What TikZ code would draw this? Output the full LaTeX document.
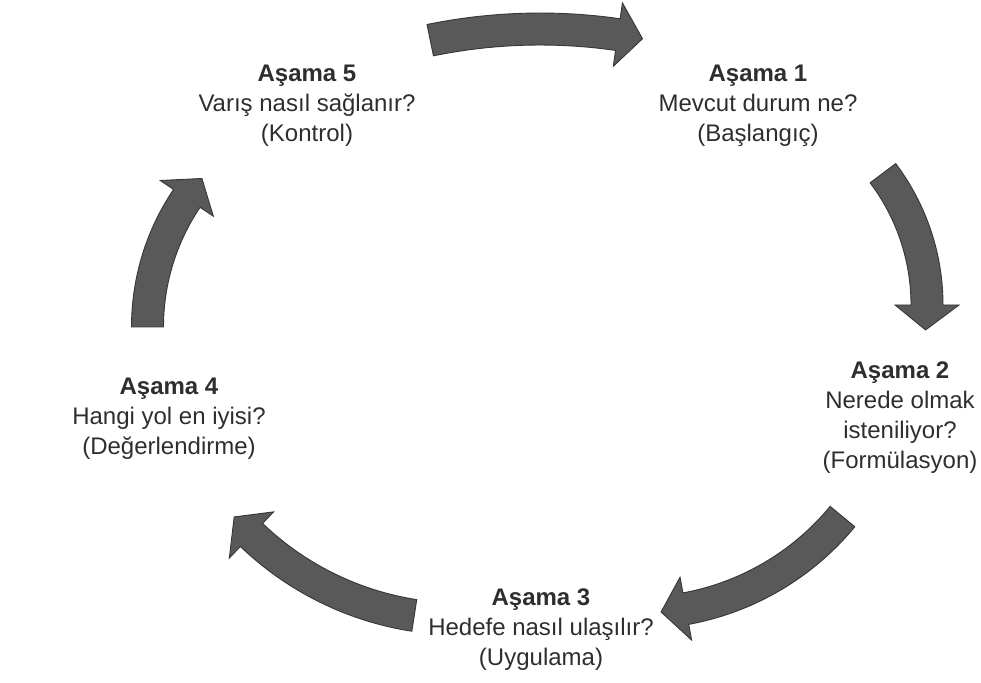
\documentclass[tikz,border=0pt]{standalone}
\usepackage{fontspec}
\setmainfont{Liberation Sans}
\usetikzlibrary{calc}
\definecolor{arrowgray}{HTML}{595959}
\definecolor{arrowedge}{HTML}{363636}
\definecolor{stagetext}{HTML}{2E2E2E}
\tikzset{
	blockarrow/.style={fill=arrowgray, draw=arrowedge, line width=0.9pt, line join=miter},
	stage/.style={align=center, inner sep=0pt, text=stagetext, font=\fontsize{24}{30}\selectfont}
}
% block arrow on a circle: centre, radius, start angle, end angle (clockwise)
\newcommand{\cyclearrow}[4]{%
	\pgfmathsetmacro{\tipang}{#4-25/#2*180/pi}
	\draw[blockarrow] ($(#1)+(#3:#2+16)$) arc[start angle=#3, end angle=#4, radius=#2+16]
		-- ($(#1)+(#4:#2+32)$) -- ($(#1)+(\tipang:#2)$) -- ($(#1)+(#4:#2-32)$)
		-- ($(#1)+(#4:#2-16)$) arc[start angle=#4, end angle=#3, radius=#2-16] -- cycle;
}

\begin{document}
\begin{tikzpicture}[x=1pt, y=1pt]
	\useasboundingbox (0,0) rectangle (981,682);

	\node[stage] (s1) at (758,576.5) {\textbf{Aşama 1}\\Mevcut durum ne?\\(Başlangıç)};
	\node[stage] (s2) at (900,264) {\textbf{Aşama 2}\\Nerede olmak\\isteniliyor?\\(Formülasyon)};
	\node[stage] (s3) at (541,52.5) {\textbf{Aşama 3}\\Hedefe nasıl ulaşılır?\\(Uygulama)};
	\node[stage] (s4) at (169,263.5) {\textbf{Aşama 4}\\Hangi yol en iyisi?\\(Değerlendirme)};
	\node[stage] (s5) at (307,576.5) {\textbf{Aşama 5}\\Varış nasıl sağlanır?\\(Kontrol)};

	\coordinate (c51) at (540,107);
	\coordinate (c12) at (708,377);
	\coordinate (c23) at (638,334);
	\coordinate (c34) at (460.5,365);
	\coordinate (c45) at (377.5,355);

	\cyclearrow{c51}{546}{101.6}{81.8}
	\cyclearrow{c12}{219}{37}{0}
	\cyclearrow{c23}{265}{-39.5}{-79.6}
	\cyclearrow{c34}{302}{261.2}{226.2}
	\cyclearrow{c45}{230}{180}{146}
\end{tikzpicture}
\end{document}
